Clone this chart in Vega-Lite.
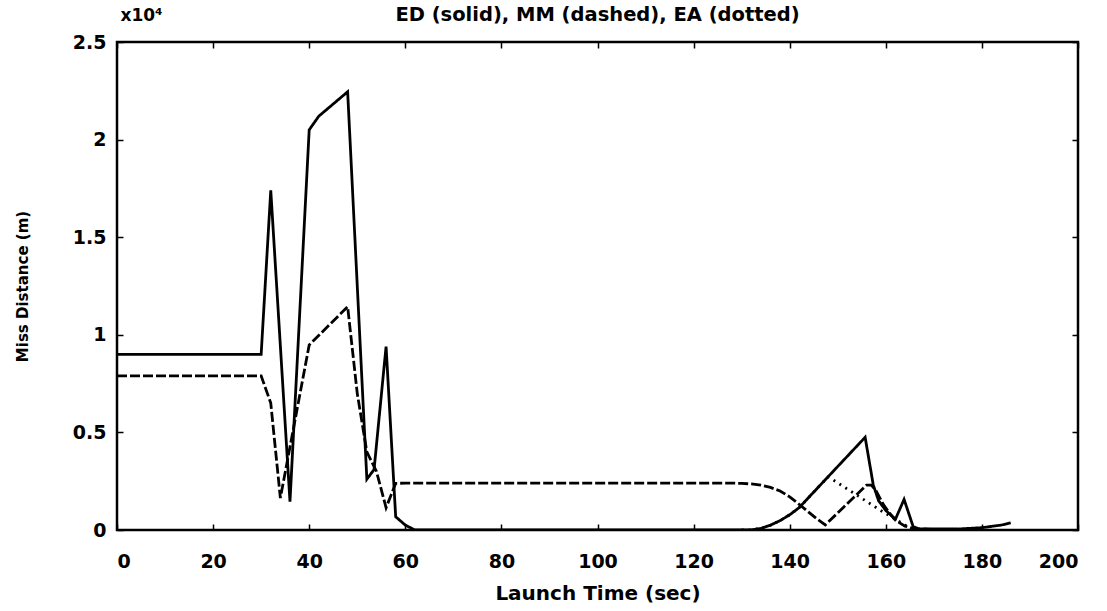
{
  "$schema": "https://vega.github.io/schema/vega-lite/v6.json",
  "width": 961,
  "height": 488,
  "autosize": {"type": "none"},
  "padding": {"left": 117, "top": 42, "right": 29, "bottom": 81},
  "background": "white",
  "config": {
    "font": "DejaVu Sans",
    "view": {"stroke": "black", "strokeWidth": 2.5},
    "axis": {
      "grid": false,
      "domain": false,
      "tickColor": "black",
      "tickWidth": 1.5,
      "labelColor": "black",
      "labelFont": "DejaVu Sans",
      "labelFontWeight": "bold",
      "labelFontSize": 19,
      "titleColor": "black",
      "titleFont": "DejaVu Sans",
      "titleFontWeight": "bold"
    }
  },
  "title": {
    "text": "ED (solid), MM (dashed), EA (dotted)",
    "fontSize": 19.5,
    "fontWeight": "bold",
    "font": "DejaVu Sans",
    "color": "black",
    "anchor": "middle",
    "frame": "group",
    "dy": 23
  },
  "data": {
    "values": [
      {"series": "ED", "t": 0, "m": 9000},
      {"series": "ED", "t": 30, "m": 9000},
      {"series": "ED", "t": 32, "m": 17400},
      {"series": "ED", "t": 36, "m": 1450},
      {"series": "ED", "t": 40, "m": 20500},
      {"series": "ED", "t": 42, "m": 21200},
      {"series": "ED", "t": 48, "m": 22450},
      {"series": "ED", "t": 52, "m": 2600},
      {"series": "ED", "t": 53.5, "m": 3100},
      {"series": "ED", "t": 56, "m": 9400},
      {"series": "ED", "t": 58, "m": 680},
      {"series": "ED", "t": 60, "m": 250},
      {"series": "ED", "t": 62, "m": 0},
      {"series": "ED", "t": 130, "m": 0},
      {"series": "ED", "t": 132, "m": 10},
      {"series": "ED", "t": 134, "m": 80},
      {"series": "ED", "t": 136, "m": 250},
      {"series": "ED", "t": 138, "m": 480},
      {"series": "ED", "t": 140, "m": 780},
      {"series": "ED", "t": 142, "m": 1150},
      {"series": "ED", "t": 144, "m": 1680},
      {"series": "ED", "t": 148, "m": 2730},
      {"series": "ED", "t": 152, "m": 3780},
      {"series": "ED", "t": 155.7, "m": 4750},
      {"series": "ED", "t": 157.4, "m": 2300},
      {"series": "ED", "t": 158.5, "m": 1500},
      {"series": "ED", "t": 160, "m": 1000},
      {"series": "ED", "t": 162, "m": 550},
      {"series": "ED", "t": 163.8, "m": 1570},
      {"series": "ED", "t": 165.7, "m": 170},
      {"series": "ED", "t": 167, "m": 50},
      {"series": "ED", "t": 175, "m": 50},
      {"series": "ED", "t": 180, "m": 120},
      {"series": "ED", "t": 184, "m": 250},
      {"series": "ED", "t": 186, "m": 370},
      {"series": "MM", "t": 0, "m": 7900},
      {"series": "MM", "t": 30, "m": 7900},
      {"series": "MM", "t": 32, "m": 6500},
      {"series": "MM", "t": 34, "m": 1640},
      {"series": "MM", "t": 40, "m": 9480},
      {"series": "MM", "t": 48, "m": 11440},
      {"series": "MM", "t": 50, "m": 7000},
      {"series": "MM", "t": 52, "m": 4000},
      {"series": "MM", "t": 54, "m": 3000},
      {"series": "MM", "t": 56, "m": 1140},
      {"series": "MM", "t": 58, "m": 2390},
      {"series": "MM", "t": 60, "m": 2400},
      {"series": "MM", "t": 128, "m": 2400},
      {"series": "MM", "t": 130, "m": 2390},
      {"series": "MM", "t": 132, "m": 2360},
      {"series": "MM", "t": 134, "m": 2300},
      {"series": "MM", "t": 136, "m": 2180},
      {"series": "MM", "t": 138, "m": 2000},
      {"series": "MM", "t": 140, "m": 1700},
      {"series": "MM", "t": 142.4, "m": 1230},
      {"series": "MM", "t": 144, "m": 900},
      {"series": "MM", "t": 145.5, "m": 600},
      {"series": "MM", "t": 147.4, "m": 260},
      {"series": "MM", "t": 156, "m": 2300},
      {"series": "MM", "t": 157, "m": 2300},
      {"series": "MM", "t": 158, "m": 2000},
      {"series": "MM", "t": 159.5, "m": 1300},
      {"series": "MM", "t": 161, "m": 800},
      {"series": "MM", "t": 162, "m": 500},
      {"series": "MM", "t": 164, "m": 200},
      {"series": "MM", "t": 166, "m": 50},
      {"series": "MM", "t": 170, "m": 30},
      {"series": "EA", "t": 130, "m": 0},
      {"series": "EA", "t": 132, "m": 10},
      {"series": "EA", "t": 134, "m": 80},
      {"series": "EA", "t": 136, "m": 250},
      {"series": "EA", "t": 138, "m": 480},
      {"series": "EA", "t": 140, "m": 780},
      {"series": "EA", "t": 142, "m": 1150},
      {"series": "EA", "t": 144, "m": 1680},
      {"series": "EA", "t": 148, "m": 2730},
      {"series": "EA", "t": 158.8, "m": 1020},
      {"series": "EA", "t": 162, "m": 550},
      {"series": "EA", "t": 164, "m": 250},
      {"series": "EA", "t": 166, "m": 50},
      {"series": "EA", "t": 170, "m": 30}
    ]
  },
  "layer": [
    {
      "mark": {"type": "line", "color": "black", "strokeWidth": 2.8, "clip": true},
      "encoding": {
        "x": {
          "field": "t", "type": "quantitative",
          "scale": {"domain": [0, 200], "nice": false, "zero": false},
          "axis": {
            "orient": "bottom",
            "values": [0, 20, 40, 60, 80, 100, 120, 140, 160, 180, 200],
            "tickSize": -6,
            "labelPadding": 28,
            "title": "Launch Time (sec)",
            "titleFontSize": 20,
            "titlePadding": 12
          }
        },
        "y": {
          "field": "m", "type": "quantitative",
          "scale": {"domain": [0, 25000], "nice": false},
          "axis": {
            "orient": "left",
            "values": [0, 5000, 10000, 15000, 20000, 25000],
            "labelExpr": "datum.value / 10000",
            "tickSize": -6,
            "labelPadding": 17,
            "title": "Miss Distance (m)",
            "titleFontSize": 15,
            "titlePadding": 42
          }
        },
        "strokeDash": {
          "field": "series", "type": "nominal",
          "scale": {"domain": ["ED", "MM", "EA"], "range": [[1, 0], [10, 3], [2, 5]]},
          "legend": null
        }
      }
    },
    {
      "mark": {"type": "point", "opacity": 0},
      "encoding": {
        "x": {
          "field": "t", "type": "quantitative",
          "axis": {
            "orient": "top",
            "values": [0, 20, 40, 60, 80, 100, 120, 140, 160, 180, 200],
            "tickSize": -6,
            "labels": false,
            "title": null
          }
        },
        "y": {
          "field": "m", "type": "quantitative",
          "axis": {
            "orient": "right",
            "values": [0, 5000, 10000, 15000, 20000, 25000],
            "tickSize": -6,
            "labels": false,
            "title": "x10⁴",
            "titleAngle": 0,
            "titleFontSize": 17,
            "titleAlign": "left",
            "titleBaseline": "bottom",
            "titleX": -958,
            "titleY": -18
          }
        }
      }
    }
  ],
  "resolve": {"axis": {"x": "independent", "y": "independent"}}
}
